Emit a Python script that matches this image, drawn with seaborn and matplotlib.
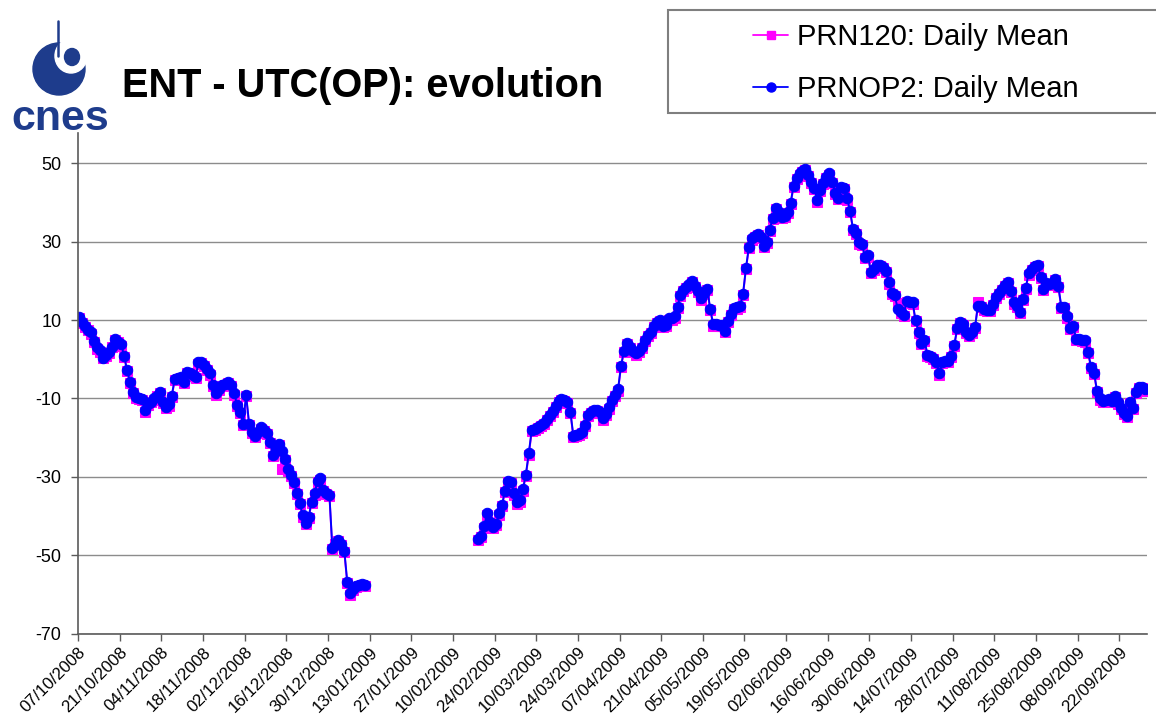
import pandas as pd
import matplotlib
matplotlib.use("Agg")
import matplotlib.pyplot as plt
import matplotlib.dates as mdates
from matplotlib.lines import Line2D
from matplotlib.patches import Circle, Ellipse, Rectangle
import seaborn as sns

sns.set_theme(style="white")
plt.rcParams["font.family"] = ["Liberation Sans", "DejaVu Sans"]
plt.rcParams["text.color"] = "black"

# -------------------------------
# Data (daily means)
# -------------------------------
seg1_start = "2008-10-07"
seg2_start = "2009-02-18"

prnop2_seg1 = [
    10.7, 9.5, 8.5, 7.5, 6.9, 4.6, 3.0, 2.3, 0.4, 1.0,
    1.9, 3.2, 5.2, 4.5, 3.8, 0.9, -2.8, -5.9, -8.4, -9.6,
    -10.0, -10.2, -13.0, -11.5, -10.8, -10.0, -9.3, -8.4, -10.8, -12.1,
    -11.5, -9.3, -5.1, -4.8, -4.5, -5.9, -3.2, -3.6, -4.0, -4.5,
    -0.8, -0.8, -1.5, -2.5, -3.6, -6.6, -8.7, -7.5, -6.6, -6.2,
    -5.7, -6.5, -8.7, -11.7, -13.5, -16.4, -9.1, -16.4, -18.6, -19.5,
    -18.5, -17.4, -18.0, -18.8, -21.0, -24.4, -23.2, -21.6, -23.5, -25.5,
    -28.1, -29.5, -31.2, -34.0, -36.6, -39.8, -41.7, -40.3, -36.4, -34.2,
    -31.0, -30.4, -33.4, -34.1, -34.6, -48.2, -47.5, -46.1, -47.0, -48.8,
    -56.8, -59.6, -58.5, -57.9, -57.5, -57.3, -57.6,
]
prn120_seg1 = [
    10.5, 9.2, 8.3, 7.4, 6.5, 4.3, 2.6, 1.8, 0.2, 0.8,
    1.7, 3.0, 4.9, 4.4, 3.5, 0.6, -3.1, -6.1, -8.7, -9.8,
    -10.2, -10.5, -13.4, -11.7, -11.0, -10.3, -9.5, -8.7, -11.1, -12.4,
    -11.8, -9.6, -5.4, -5.0, -4.8, -6.1, -3.5, -3.8, -4.3, -4.8,
    -1.1, -1.0, -1.8, -2.8, -3.9, -6.9, -9.0, -7.8, -6.9, -6.5,
    -6.0, -6.8, -9.0, -12.0, -13.8, -16.7, -9.4, -16.7, -18.9, -19.8,
    -18.8, -17.7, -18.3, -19.1, -21.3, -24.8, -23.5, -21.9, -28.1, -25.8,
    -28.4, -29.8, -31.5, -34.3, -36.9, -40.2, -42.0, -40.6, -36.7, -34.5,
    -31.3, -30.7, -33.7, -34.4, -34.9, -48.5, -47.0, -46.4, -47.3, -49.1,
    -57.1, -60.2, -58.8, -58.2, -57.8, -57.6, -57.9,
]

prnop2_seg2 = [
    -45.8, -45.0, -42.6, -39.3, -41.5, -42.7, -42.0, -39.3, -37.2, -33.5,
    -31.0, -31.2, -34.2, -36.4, -36.0, -33.2, -29.5, -24.0, -18.1, -17.8,
    -17.3, -16.7, -16.2, -15.3, -14.2, -13.2, -12.0, -10.6, -10.2, -10.4,
    -10.8, -13.4, -19.6, -19.4, -19.0, -18.5, -16.8, -14.2, -13.5, -13.0,
    -13.0, -13.4, -15.1, -14.0, -12.3, -10.4, -9.2, -7.7, -1.7, 2.2,
    4.1, 3.2, 2.2, 1.5, 2.2, 3.2, 4.9, 6.2, 6.9, 8.4,
    9.6, 10.0, 8.6, 8.7, 10.4, 10.4, 10.9, 13.4, 16.4, 17.7,
    18.5, 19.1, 19.9, 18.7, 17.5, 15.5, 17.0, 17.9, 12.8, 8.9,
    8.9, 8.8, 8.8, 7.2, 9.7, 11.5, 13.0, 13.2, 13.5, 16.6,
    23.3, 28.7, 30.8, 31.5, 31.9, 31.3, 28.9, 30.0, 33.0, 36.1,
    38.6, 37.5, 36.2, 36.6, 37.6, 39.8, 44.3, 46.3, 47.4, 48.0,
    48.5, 47.0, 45.2, 43.6, 40.6, 43.2, 44.9, 46.5, 47.4, 45.3,
    42.5, 41.2, 44.0, 43.6, 41.0, 37.8, 33.2, 32.2, 29.8, 29.4,
    26.1, 26.5, 22.3, 23.0, 24.0, 24.0, 23.5, 22.5, 19.6, 17.0,
    16.4, 12.8, 12.0, 11.4, 14.8, 14.6, 14.5, 10.0, 7.0, 4.1,
    4.9, 1.2, 0.8, 0.3, -0.6, -3.6, -0.6, -0.5, -0.4, 0.9,
    3.6, 7.9, 9.6, 9.0, 7.0, 6.2, 6.9, 8.3, 13.7, 13.5,
    12.8, 12.5, 12.5, 14.2, 15.9, 17.0, 17.9, 19.0, 19.8, 17.4,
    14.5, 13.5, 12.1, 15.3, 18.1, 21.9, 23.0, 23.9, 24.1, 21.1,
    17.9, 19.4, 19.2, 19.5, 20.5, 18.6, 13.4, 13.4, 10.9, 8.0,
    8.5, 5.2, 5.1, 5.0, 4.8, 1.8, -2.0, -3.4, -8.1, -10.0,
    -10.6, -10.4, -10.2, -10.6, -9.4, -11.0, -12.5, -13.6, -14.5, -10.8,
    -12.5, -8.3, -7.0, -7.1, -7.7,
]
prn120_seg2 = [
    -46.2, -45.3, -43.0, -39.6, -41.8, -43.0, -42.4, -39.7, -37.5, -33.9,
    -31.3, -31.6, -34.6, -36.8, -36.3, -33.6, -29.8, -24.4, -18.4, -18.1,
    -17.6, -17.0, -16.5, -15.6, -14.5, -13.5, -12.3, -10.9, -10.5, -10.7,
    -11.1, -13.7, -19.9, -19.7, -19.3, -18.8, -17.1, -14.5, -13.8, -13.3,
    -13.3, -13.7, -15.4, -14.3, -12.6, -10.7, -9.5, -8.0, -2.0, 1.9,
    3.8, 2.9, 1.9, 1.2, 1.9, 2.9, 4.6, 5.9, 6.6, 8.1,
    9.3, 9.7, 8.3, 8.4, 10.1, 10.1, 10.6, 13.1, 16.1, 17.4,
    18.2, 18.8, 19.6, 18.4, 17.2, 15.2, 16.7, 17.6, 12.5, 8.6,
    8.6, 8.5, 8.5, 6.9, 9.4, 11.2, 12.7, 12.9, 13.2, 16.3,
    23.0, 28.4, 30.5, 31.2, 31.6, 31.0, 28.6, 29.7, 32.7, 35.8,
    38.3, 37.2, 35.9, 36.3, 37.3, 39.5, 44.0, 46.0, 47.1, 47.7,
    48.2, 46.7, 44.9, 43.3, 40.2, 42.9, 44.6, 46.2, 47.1, 45.0,
    42.2, 40.9, 43.7, 43.3, 40.7, 37.5, 32.9, 31.9, 29.5, 29.1,
    25.8, 26.2, 22.0, 22.7, 23.7, 23.7, 23.2, 22.2, 19.3, 16.7,
    16.1, 14.3, 11.7, 11.1, 14.5, 14.3, 14.2, 9.7, 6.7, 3.8,
    4.6, 0.9, 0.5, 0.0, -0.9, -3.9, -0.9, -0.8, -0.7, 0.6,
    3.3, 7.6, 9.3, 8.7, 6.7, 5.9, 6.6, 8.0, 14.6, 13.2,
    12.5, 12.2, 12.2, 13.9, 15.6, 16.7, 17.6, 18.7, 19.5, 17.1,
    14.2, 13.2, 11.8, 15.0, 17.8, 21.6, 22.7, 23.6, 23.8, 20.8,
    17.6, 19.1, 18.9, 19.2, 20.2, 18.3, 13.1, 13.1, 10.6, 7.7,
    8.2, 4.9, 4.8, 4.7, 4.5, 1.5, -2.3, -3.7, -8.4, -10.3,
    -10.9, -10.7, -10.5, -10.9, -9.7, -11.3, -12.8, -13.9, -14.8, -11.1,
    -12.8, -8.6, -7.3, -7.4, -8.0,
]

tick_start = "2008-10-07"
tick_end = "2009-09-22"
axis_end = "2009-09-30 19:00"
y_ticks = [-70, -50, -30, -10, 10, 30, 50]
labels = ["PRN120: Daily Mean", "PRNOP2: Daily Mean"]
title = "ENT - UTC(OP): evolution"


def make_frame(start, a, b, seg):
    dates = pd.date_range(start, periods=len(a), freq="D")
    return pd.DataFrame({"date": dates, "PRN120": a, "PRNOP2": b, "segment": seg})


df = pd.concat([
    make_frame(seg1_start, prn120_seg1, prnop2_seg1, 1),
    make_frame(seg2_start, prn120_seg2, prnop2_seg2, 2),
], ignore_index=True)

# -------------------------------
# Figure
# -------------------------------
W, H = 1156, 718
fig = plt.figure(figsize=(W / 100, H / 100), dpi=100)
fig.patch.set_facecolor("white")
ax = fig.add_axes([78 / W, (H - 633.7) / H, (1147 - 78) / W, (633.7 - 133) / H])

sns.lineplot(data=df, x="date", y="PRN120", units="segment", estimator=None,
             color="#ff00ff", marker="s", markersize=6.5, markeredgecolor="#ff00ff",
             linewidth=1.4, legend=False, ax=ax)
sns.lineplot(data=df, x="date", y="PRNOP2", units="segment", estimator=None,
             color="#0000ff", marker="o", markersize=7.5, markeredgecolor="#0000ff",
             linewidth=1.4, legend=False, ax=ax)

# Excel-style date axis: points sit between tick marks
half_day = pd.Timedelta(hours=12)
tick_dates = pd.date_range(tick_start, tick_end, freq="14D")
ax.set_xticks(mdates.date2num(tick_dates - half_day))
ax.set_xticklabels([d.strftime("%d/%m/%Y") for d in tick_dates],
                   rotation=45, ha="right", rotation_mode="anchor", fontsize=12.2)
ax.set_xlim(mdates.date2num(pd.Timestamp(tick_start) - half_day),
            mdates.date2num(pd.Timestamp(axis_end)))

ax.set_ylim(-70, 57.7)
ax.set_yticks(y_ticks)
ax.set_yticklabels([str(v) for v in y_ticks], fontsize=13)

ax.set_xlabel("")
ax.set_ylabel("")
ax.yaxis.grid(True, color="#8c8c8c", linewidth=1.0)
ax.xaxis.grid(False)
ax.set_axisbelow(True)
for side in ["top", "right"]:
    ax.spines[side].set_visible(False)
for side in ["left", "bottom"]:
    ax.spines[side].set_color("#5a5a5a")
    ax.spines[side].set_linewidth(1.2)
ax.tick_params(axis="both", bottom=True, left=True, direction="out", length=5,
               width=1, color="#5a5a5a", labelcolor="black")
ax.tick_params(axis="y", pad=7)
ax.tick_params(axis="x", pad=3)

# -------------------------------
# Header: logo, title, legend (pixel coordinates)
# -------------------------------
top = fig.add_axes([0, 0, 1, 1], zorder=5)
top.set_xlim(0, W)
top.set_ylim(H, 0)
top.axis("off")

logo_blue = "#1e3c8c"
top.add_patch(Circle((59, 69), 26, color=logo_blue))
top.add_patch(Ellipse((71, 56), 32, 34, color="white"))
top.add_patch(Ellipse((72, 57), 15, 17, color=logo_blue))
top.plot([58, 58], [21, 56], color=logo_blue, linewidth=1.8)
top.text(11, 130, "cnes", fontsize=31, fontweight="bold", color=logo_blue,
         va="baseline")

top.text(122, 97, title, fontsize=28.6, fontweight="bold", color="black",
         va="baseline")

top.add_patch(Rectangle((668, 10), 520, 103, facecolor="white",
                        edgecolor="#7f7f7f", linewidth=1.5))
handles = [
    Line2D([], [], color="#ff00ff", marker="s", markersize=6, linewidth=1.3),
    Line2D([], [], color="#0000ff", marker="o", markersize=6.5, linewidth=1.3),
]
top.legend(handles, labels, loc="upper left", bbox_to_anchor=(753 / W, 1 - 23 / H),
           bbox_transform=fig.transFigure, frameon=False, fontsize=21,
           labelcolor="black", borderpad=0, borderaxespad=0, handlelength=1.2,
           handletextpad=0.3, labelspacing=0.82)

fig.savefig("out.png", dpi=100)
